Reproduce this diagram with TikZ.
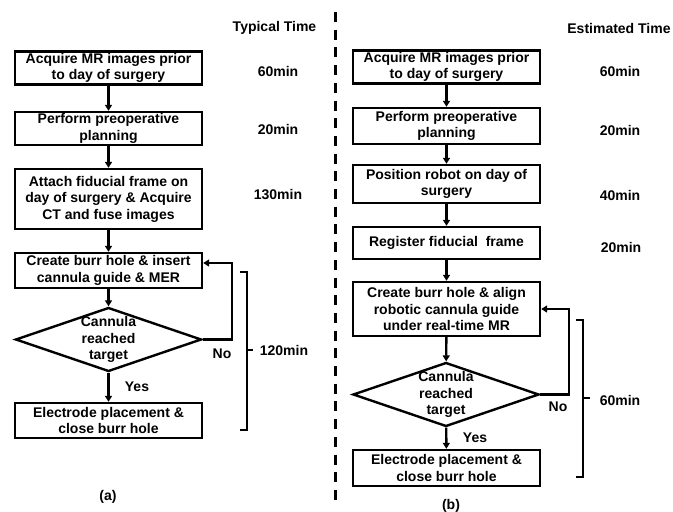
\documentclass[tikz,border=0pt]{standalone}
\usepackage{fontspec}
\setmainfont{Liberation Sans}
\usetikzlibrary{shapes.geometric,arrows.meta}
\begin{document}
\begin{tikzpicture}[x=1pt,y=-1pt,
  every node/.style={font=\fontsize{14}{16.5}\selectfont\bfseries, inner sep=0pt},
  stepbox/.style={draw, line width=2.4pt, minimum width=187pt, align=center},
  dia/.style={draw, diamond, line width=2.4pt},
  flow/.style={line width=2.4pt, -{Triangle[length=6pt,width=7pt]}},
  brack/.style={line width=2.4pt},
  lbl/.style={align=center}]
\useasboundingbox (0,0) rectangle (673,512);
% ---------- left panel ----------
\node[lbl] (tt) at (274.5,28) {Typical Time};
\node[stepbox, minimum height=33pt] (a1) at (108.5,68) {Acquire MR images prior\\to day of surgery};
\node[stepbox, minimum height=33pt] (a2) at (108.5,128.5) {Perform preoperative\\planning};
\node[stepbox, minimum height=60pt] (a3) at (108.5,199) {Attach fiducial frame on\\day of surgery \& Acquire\\CT and fuse images};
\node[stepbox, minimum height=35pt] (a4) at (108.5,270.5) {Create burr hole \& insert\\cannula guide \& MER};
\node[dia, minimum width=186pt, minimum height=64pt] (ad) at (108.5,339.5) {};
\node[lbl] (adt) at (ad) {Cannula\\reached\\target};
\node[stepbox, minimum height=35pt] (a5) at (108.5,420.5) {Electrode placement \&\\close burr hole};
\node[lbl] (t1) at (278,71) {60min};
\node[lbl] (t2) at (278,129) {20min};
\node[lbl] (t3) at (278,195) {130min};
\node[lbl] (t4) at (284,350) {120min};
\node[lbl] (ano) at (222,354) {No};
\node[lbl] (ayes) at (137,387) {Yes};
\node[lbl] (pa) at (108,497) {(a)};
\draw[flow] (a1) -- (a2);
\draw[flow] (a2) -- (a3);
\draw[flow] (a3) -- (a4);
\draw[flow] (a4) -- (ad);
\draw[flow] (ad) -- (a5);
\coordinate (aloop) at (232,263);
\draw[flow] (ad.east) -| (aloop) -- (aloop -| a4.east);
\coordinate (abt) at (240,272);
\coordinate (abb) at (240,430);
\coordinate (abm) at (253,350);
\draw[brack] (abt) -- ++(7,0) |- (abb);
\draw[brack] (abm) -- ++(-7,0);
% ---------- divider ----------
\coordinate (dv1) at (335,12);
\coordinate (dv2) at (335,500);
\draw[line width=3pt, dash pattern=on 10pt off 7.7pt] (dv1) -- (dv2);
% ---------- right panel ----------
\node[lbl] (et) at (619,28) {Estimated Time};
\node[stepbox, minimum height=33pt] (b1) at (446.5,67) {Acquire MR images prior\\to day of surgery};
\node[stepbox, minimum height=36pt] (b2) at (446.5,126) {Perform preoperative\\planning};
\node[stepbox, minimum height=38pt] (b3) at (446.5,184) {Position robot on day of\\surgery};
\node[stepbox, minimum height=32pt] (b4) at (446.5,243) {Register fiducial\ \ frame};
\node[stepbox, minimum height=54pt] (b5) at (446.5,309) {Create burr hole \& align\\robotic cannula guide\\under real-time MR};
\node[dia, minimum width=186pt, minimum height=64pt] (bd) at (446,394.5) {};
\node[lbl] (bdt) at (bd) {Cannula\\reached\\target};
\node[stepbox, minimum height=36pt] (b6) at (446.5,468) {Electrode placement \&\\close burr hole};
\node[lbl] (s1) at (620,71) {60min};
\node[lbl] (s2) at (620,130) {20min};
\node[lbl] (s3) at (620,195) {40min};
\node[lbl] (s4) at (621,247) {20min};
\node[lbl] (s5) at (620,400) {60min};
\node[lbl] (bno) at (558,407) {No};
\node[lbl] (byes) at (475,438) {Yes};
\node[lbl] (pb) at (451,506) {(b)};
\draw[flow] (b1) -- (b2);
\draw[flow] (b2) -- (b3);
\draw[flow] (b3) -- (b4);
\draw[flow] (b4) -- (b5);
\draw[flow] (b5) -- (bd);
\draw[flow] (bd) -- (b6);
\coordinate (bloop) at (569,309);
\draw[flow] (bd.east) -| (bloop) -- (bloop -| b5.east);
\coordinate (bbt) at (576,320);
\coordinate (bbb) at (576,477);
\coordinate (bbm) at (590,398);
\draw[brack] (bbt) -- ++(7,0) |- (bbb);
\draw[brack] (bbm) -- ++(-7,0);
\end{tikzpicture}
\end{document}
